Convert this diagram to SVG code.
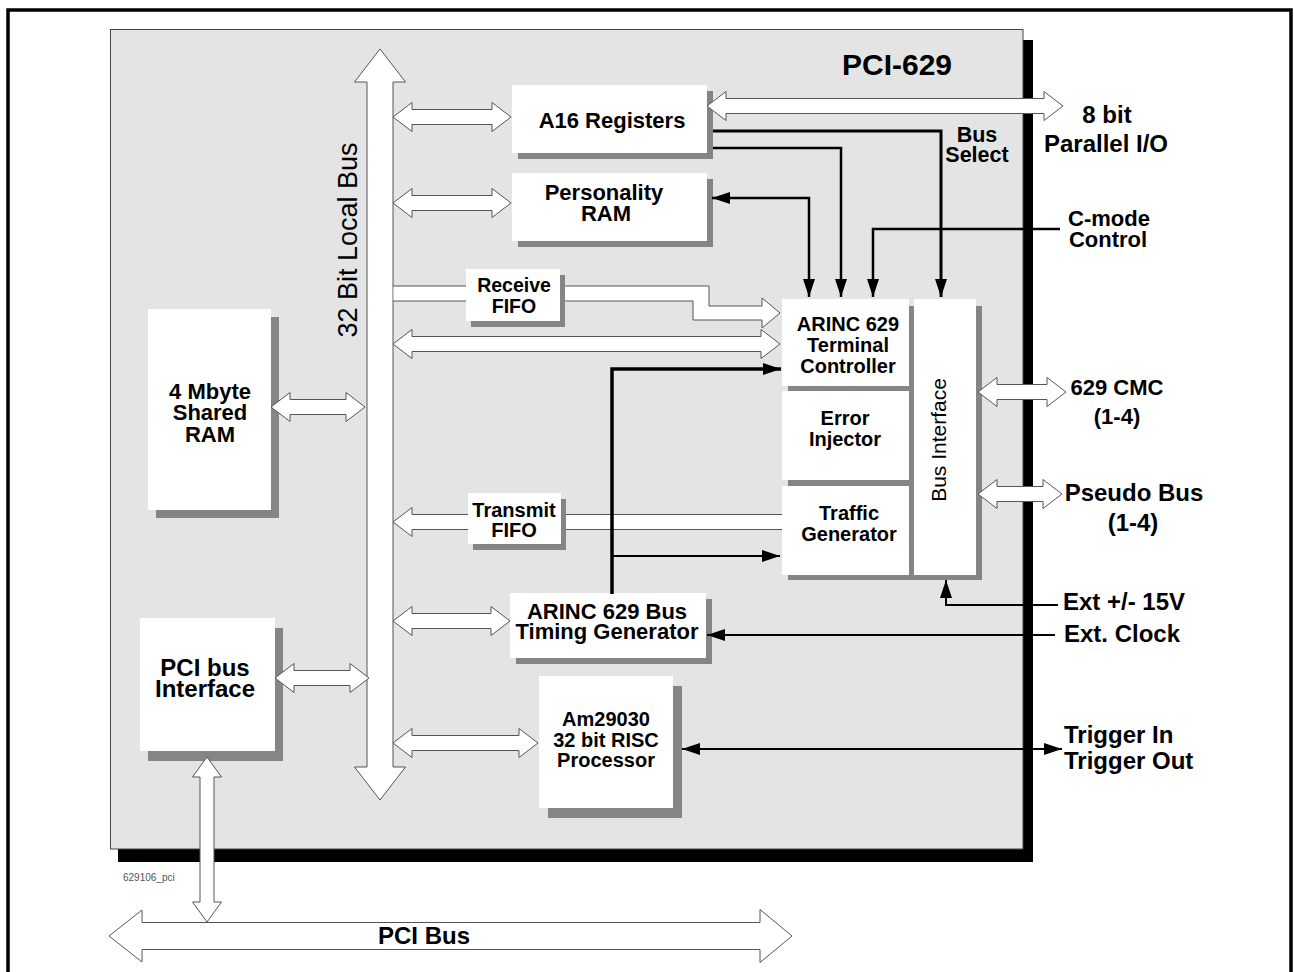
<svg xmlns="http://www.w3.org/2000/svg" width="1294" height="972" viewBox="0 0 1294 972">
<defs>
<style>
.t{font-family:"Liberation Sans",Arial,sans-serif;font-weight:bold;fill:#000;text-anchor:middle}
.tl{font-family:"Liberation Sans",Arial,sans-serif;font-weight:bold;fill:#000;text-anchor:start}
.tn{font-family:"Liberation Sans",Arial,sans-serif;font-weight:normal;fill:#000;text-anchor:middle}
.box{fill:#fff}
.sh{fill:#858585}
.ho{fill:#fff;stroke:#555;stroke-width:1;stroke-linejoin:miter}
.hf{fill:#fff;stroke:none}
.hs{fill:none;stroke:#555;stroke-width:1}
.ln{fill:none;stroke:#000}
</style>
<marker id="ah" viewBox="0 0 18 12" refX="18" refY="6" markerWidth="18" markerHeight="12" markerUnits="userSpaceOnUse" orient="auto-start-reverse">
<path d="M0,0 L18,6 L0,12 z" fill="#000"/>
</marker>
</defs>
<rect x="0" y="0" width="1294" height="972" fill="#fff"/>
<rect x="8" y="10" width="1283" height="1000" fill="none" stroke="#000" stroke-width="3.5"/>
<g id="board">
<rect x="118" y="40" width="915" height="822" fill="#000"/>
<rect x="110.5" y="29.5" width="912.5" height="819.5" fill="#e4e4e4" stroke="#444" stroke-width="1"/>
<text class="t" x="897" y="75" font-size="30">PCI-629</text>
<text class="tl" x="123" y="881" font-size="10" style="font-weight:normal;fill:#555">629106_pci</text>
</g>
<g id="localbus">
<polygon class="ho" points="380,49 405.5,82 393,82 393,767 405.5,767 380,800 354.5,767 367,767 367,82 354.5,82"/>
<text class="tn" transform="translate(357,240) rotate(-90)" font-size="27">32 Bit Local Bus</text>
</g>
<g id="a16">
<rect class="sh" x="518" y="91" width="195" height="68"/>
<rect class="box" x="512" y="85" width="195" height="68"/>
<text class="t" x="612" y="128" font-size="22">A16 Registers</text>
</g>
<g id="personality">
<rect class="sh" x="518" y="179" width="195" height="68"/>
<rect class="box" x="512" y="173" width="195" height="68"/>
<text class="t" x="604" y="200" font-size="22">Personality</text>
<text class="t" x="606" y="221" font-size="22">RAM</text>
</g>
<g id="receive">
<rect class="sh" x="471" y="275" width="94" height="52"/>
<rect class="box" x="466" y="269" width="94" height="52"/>
<text class="t" x="514" y="292" font-size="19.5">Receive</text>
<text class="t" x="514" y="313" font-size="19.5">FIFO</text>
</g>
<g id="transmit">
<rect class="sh" x="473" y="499" width="93" height="51"/>
<rect class="box" x="468" y="493" width="93" height="51"/>
<text class="t" x="514" y="517" font-size="20">Transmit</text>
<text class="t" x="514" y="537" font-size="20">FIFO</text>
</g>
<g id="arinc">
<rect class="sh" x="788" y="306" width="194" height="274"/>
<rect class="box" x="782" y="299" width="127" height="87"/>
<text class="t" x="848" y="331" font-size="20">ARINC 629</text>
<text class="t" x="848" y="352" font-size="20">Terminal</text>
<text class="t" x="848" y="373" font-size="20">Controller</text>
</g>
<g id="error">
<rect class="box" x="782" y="391" width="127" height="89"/>
<text class="t" x="845" y="425" font-size="20">Error</text>
<text class="t" x="845" y="446" font-size="20">Injector</text>
</g>
<g id="traffic">
<rect class="box" x="782" y="486" width="127" height="89"/>
<text class="t" x="849" y="520" font-size="20">Traffic</text>
<text class="t" x="849" y="541" font-size="20">Generator</text>
</g>
<g id="businterface">
<rect class="box" x="914" y="299" width="62" height="276"/>
<text class="tn" transform="translate(946,440) rotate(-90)" font-size="21">Bus Interface</text>
</g>
<g id="timing">
<rect class="sh" x="516" y="599" width="196" height="65"/>
<rect class="box" x="510" y="593" width="196" height="65"/>
<text class="t" x="607" y="619" font-size="22">ARINC 629 Bus</text>
<text class="t" x="607" y="639" font-size="22">Timing Generator</text>
</g>
<g id="am29030">
<rect class="sh" x="548" y="686" width="134" height="132"/>
<rect class="box" x="539" y="676" width="134" height="132"/>
<text class="t" x="606" y="726" font-size="20">Am29030</text>
<text class="t" x="606" y="747" font-size="20">32 bit RISC</text>
<text class="t" x="606" y="767" font-size="20">Processor</text>
</g>
<g id="sharedram">
<rect class="sh" x="156" y="317" width="123" height="201"/>
<rect class="box" x="148" y="309" width="123" height="201"/>
<text class="t" x="210" y="399" font-size="22">4 Mbyte</text>
<text class="t" x="210" y="420" font-size="22">Shared</text>
<text class="t" x="210" y="442" font-size="22">RAM</text>
</g>
<g id="pciif">
<rect class="sh" x="148" y="628" width="135" height="133"/>
<rect class="box" x="140" y="618" width="135" height="133"/>
<text class="t" x="205" y="676" font-size="24">PCI bus</text>
<text class="t" x="205" y="697" font-size="24">Interface</text>
</g>
<g id="labels">
<text class="t" x="1107" y="123" font-size="24">8 bit</text>
<text class="t" x="1106" y="152" font-size="24">Parallel I/O</text>
<text class="t" x="977" y="142" font-size="21.5">Bus</text>
<text class="t" x="977" y="162" font-size="21.5">Select</text>
<text class="t" x="1109" y="226" font-size="22">C-mode</text>
<text class="t" x="1108" y="247" font-size="22">Control</text>
<text class="t" x="1117" y="395" font-size="22">629 CMC</text>
<text class="t" x="1117" y="424" font-size="22">(1-4)</text>
<text class="t" x="1134" y="501" font-size="24">Pseudo Bus</text>
<text class="t" x="1133" y="531" font-size="24">(1-4)</text>
<text class="tl" x="1063" y="610" font-size="24">Ext +/- 15V</text>
<text class="tl" x="1064" y="642" font-size="24">Ext. Clock</text>
<text class="tl" x="1064" y="743" font-size="24">Trigger In</text>
<text class="tl" x="1064" y="769" font-size="24">Trigger Out</text>
</g>
<g id="connectors">
<polygon class="ho" points="393,117 412,102.5 412,109.5 492,109.5 492,102.5 511,117 492,131.5 492,124.5 412,124.5 412,131.5"/>
<polygon class="ho" points="393,203 412,188.5 412,195.5 492,195.5 492,188.5 511,203 492,217.5 492,210.5 412,210.5 412,217.5"/>
<polygon class="ho" points="393,344 412,329.5 412,336.5 761,336.5 761,329.5 780,344 761,358.5 761,351.5 412,351.5 412,358.5"/>
<polygon class="ho" points="393,621 412,606.5 412,613.5 491,613.5 491,606.5 510,621 491,635.5 491,628.5 412,628.5 412,635.5"/>
<polygon class="ho" points="393,743 412,728.5 412,735.5 519,735.5 519,728.5 538,743 519,757.5 519,750.5 412,750.5 412,757.5"/>
<polygon class="ho" points="271,407 290,392.5 290,399.5 346,399.5 346,392.5 365,407 346,421.5 346,414.5 290,414.5 290,421.5"/>
<polygon class="ho" points="275,678 294,663.5 294,670.5 350,670.5 350,663.5 369,678 350,692.5 350,685.5 294,685.5 294,692.5"/>
<polygon class="ho" points="707,106 726,91.5 726,98.5 1044,98.5 1044,91.5 1063,106 1044,120.5 1044,113.5 726,113.5 726,120.5"/>
<polygon class="ho" points="978,392 997,377.5 997,384.5 1047,384.5 1047,377.5 1066,392 1047,406.5 1047,399.5 997,399.5 997,406.5"/>
<polygon class="ho" points="978,494 997,479.5 997,486.5 1043,486.5 1043,479.5 1062,494 1043,508.5 1043,501.5 997,501.5 997,508.5"/>
<polygon class="ho" points="207,757 221.5,777 214,777 214,902 221.5,902 207,922 192.5,902 200,902 200,777 192.5,777"/>
<polygon class="ho" points="109,936 142,910 142,922.5 760,922.5 760,909.5 792,936 760,962.5 760,949.5 142,949.5 142,962"/>
<text class="t" x="424" y="944" font-size="24">PCI Bus</text>
<rect class="hf" x="393.5" y="286" width="72.5" height="15"/>
<path class="hs" d="M393 286 H466 M393 301 H466"/>
<polygon class="hf" points="565,286 709,286 709,306 762,306 762,298 780,313 762,328 762,320 693,320 693,301 565,301"/>
<path class="hs" d="M565 286 H709 V306 H762 V298 L780 313 L762 328 V320 H693 V301 H565"/>
<polygon class="hf" points="468,514.5 412,514.5 412,507.5 393,522 412,536.5 412,529.5 468,529.5"/>
<path class="hs" d="M468 514.5 H412 V507.5 L393 522 L412 536.5 V529.5 H468"/>
<rect class="hf" x="566" y="514.5" width="216" height="15"/>
<path class="hs" d="M566 514.5 H782 M566 529.5 H782"/>
<path class="ln" stroke-width="3" d="M713 131 H941 V297" marker-end="url(#ah)"/>
<path class="ln" stroke-width="2.5" d="M713 148 H841 V297" marker-end="url(#ah)"/>
<path class="ln" stroke-width="2.5" d="M712 198 H809 V297" marker-start="url(#ah)" marker-end="url(#ah)"/>
<path class="ln" stroke-width="2.5" d="M1060 229 H873 V297" marker-end="url(#ah)"/>
<path class="ln" stroke-width="3.5" d="M612 594 V369 H781" marker-end="url(#ah)"/>
<path class="ln" stroke-width="2" d="M612 556 H780" marker-end="url(#ah)"/>
<path class="ln" stroke-width="2" d="M1058 605 H946 V580" marker-end="url(#ah)"/>
<path class="ln" stroke-width="2" d="M1055 635 H707" marker-end="url(#ah)"/>
<path class="ln" stroke-width="2" d="M682 749 H1062" marker-start="url(#ah)" marker-end="url(#ah)"/>
</g>
</svg>
